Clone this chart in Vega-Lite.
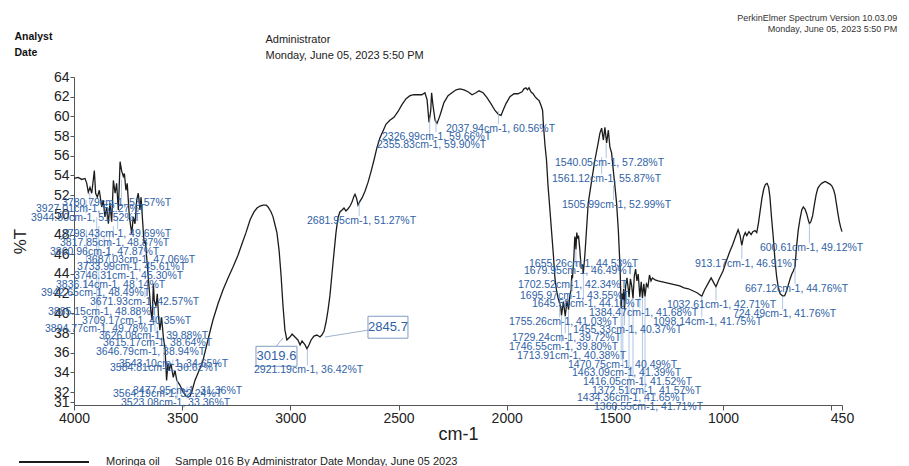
{
  "$schema": "https://vega.github.io/schema/vega-lite/v6.json",
  "autosize": {"type": "none"},
  "padding": {"left": 74, "top": 77, "right": 67, "bottom": 61},
  "width": 768,
  "height": 328,
  "background": "white",
  "title": {
    "text": ["PerkinElmer Spectrum Version 10.03.09", "Monday, June 05, 2023 5:50 PM"],
    "anchor": "end",
    "fontSize": 9,
    "fontWeight": "normal",
    "font": "Liberation Sans",
    "color": "#333333",
    "lineHeight": 11,
    "dx": 34,
    "offset": -3
  },
  "config": {
    "font": "Liberation Sans",
    "view": {"stroke": null}
  },
  "datasets": {
    "spec": [
      {"w": 4000, "t": 53.7}, {"w": 3981, "t": 53.8}, {"w": 3964, "t": 53.6}, {"w": 3949, "t": 53.7},
      {"w": 3941, "t": 53.2}, {"w": 3934, "t": 52.3}, {"w": 3926, "t": 52.8}, {"w": 3918, "t": 52.2},
      {"w": 3906, "t": 54.5}, {"w": 3900, "t": 52.2}, {"w": 3892, "t": 51.8}, {"w": 3883, "t": 52.5},
      {"w": 3872, "t": 50.8}, {"w": 3865, "t": 51.5}, {"w": 3857, "t": 49.8}, {"w": 3849, "t": 50.8},
      {"w": 3841, "t": 49.1}, {"w": 3834, "t": 51.2}, {"w": 3826, "t": 49.3}, {"w": 3818, "t": 53.5},
      {"w": 3810, "t": 52.2}, {"w": 3803, "t": 53.2}, {"w": 3795, "t": 50.5}, {"w": 3787, "t": 55.4},
      {"w": 3780, "t": 54.5}, {"w": 3772, "t": 53.9}, {"w": 3767, "t": 54.2}, {"w": 3760, "t": 52.5},
      {"w": 3754, "t": 53.2}, {"w": 3744, "t": 49.8}, {"w": 3733, "t": 48.1}, {"w": 3726, "t": 49.8},
      {"w": 3718, "t": 49.1}, {"w": 3710, "t": 51.5}, {"w": 3703, "t": 52.2}, {"w": 3695, "t": 50.5},
      {"w": 3690, "t": 51.8}, {"w": 3682, "t": 49.1}, {"w": 3676, "t": 47.1}, {"w": 3670, "t": 47.4},
      {"w": 3664, "t": 45.7}, {"w": 3657, "t": 43.7}, {"w": 3652, "t": 42.4}, {"w": 3645, "t": 40.3},
      {"w": 3639, "t": 39.3}, {"w": 3633, "t": 43.0}, {"w": 3629, "t": 41.3}, {"w": 3621, "t": 40.7},
      {"w": 3615, "t": 42.0}, {"w": 3609, "t": 39.6}, {"w": 3603, "t": 38.3}, {"w": 3595, "t": 39.6},
      {"w": 3587, "t": 37.6}, {"w": 3579, "t": 36.3}, {"w": 3572, "t": 33.2}, {"w": 3566, "t": 34.9},
      {"w": 3560, "t": 34.2}, {"w": 3552, "t": 34.9}, {"w": 3541, "t": 33.5}, {"w": 3533, "t": 34.2},
      {"w": 3525, "t": 33.2}, {"w": 3510, "t": 32.7}, {"w": 3495, "t": 32.0}, {"w": 3482, "t": 31.6},
      {"w": 3472, "t": 31.5}, {"w": 3464, "t": 31.6}, {"w": 3456, "t": 32.0}, {"w": 3441, "t": 33.2},
      {"w": 3418, "t": 34.4}, {"w": 3404, "t": 35.2}, {"w": 3381, "t": 37.3}, {"w": 3358, "t": 39.3},
      {"w": 3334, "t": 41.0}, {"w": 3311, "t": 42.4}, {"w": 3288, "t": 43.6}, {"w": 3265, "t": 44.7},
      {"w": 3242, "t": 45.9}, {"w": 3223, "t": 47.1}, {"w": 3205, "t": 48.2}, {"w": 3186, "t": 49.5},
      {"w": 3168, "t": 50.3}, {"w": 3154, "t": 50.7}, {"w": 3140, "t": 50.9}, {"w": 3126, "t": 51.0},
      {"w": 3112, "t": 51.0}, {"w": 3103, "t": 50.8}, {"w": 3089, "t": 50.3}, {"w": 3080, "t": 49.8},
      {"w": 3071, "t": 49.0}, {"w": 3062, "t": 48.2}, {"w": 3052, "t": 46.4}, {"w": 3043, "t": 43.9},
      {"w": 3034, "t": 40.8}, {"w": 3025, "t": 38.3}, {"w": 3016, "t": 37.3}, {"w": 3002, "t": 37.6},
      {"w": 2992, "t": 37.9}, {"w": 2983, "t": 37.7}, {"w": 2974, "t": 37.5}, {"w": 2965, "t": 37.3},
      {"w": 2955, "t": 36.8}, {"w": 2946, "t": 37.2}, {"w": 2932, "t": 36.8}, {"w": 2923, "t": 36.4},
      {"w": 2914, "t": 36.8}, {"w": 2904, "t": 37.3}, {"w": 2891, "t": 37.7}, {"w": 2877, "t": 37.8},
      {"w": 2863, "t": 37.6}, {"w": 2854, "t": 37.8}, {"w": 2844, "t": 38.2}, {"w": 2835, "t": 39.1},
      {"w": 2826, "t": 40.3}, {"w": 2817, "t": 41.8}, {"w": 2808, "t": 43.9}, {"w": 2798, "t": 46.2},
      {"w": 2789, "t": 48.2}, {"w": 2780, "t": 49.7}, {"w": 2771, "t": 50.3}, {"w": 2761, "t": 50.5},
      {"w": 2752, "t": 50.7}, {"w": 2743, "t": 50.4}, {"w": 2734, "t": 50.6}, {"w": 2724, "t": 50.9},
      {"w": 2715, "t": 51.3}, {"w": 2706, "t": 51.9}, {"w": 2701, "t": 52.1}, {"w": 2694, "t": 51.7},
      {"w": 2687, "t": 51.0}, {"w": 2678, "t": 51.4}, {"w": 2669, "t": 51.7}, {"w": 2655, "t": 52.4},
      {"w": 2641, "t": 53.3}, {"w": 2627, "t": 54.4}, {"w": 2613, "t": 55.6}, {"w": 2600, "t": 56.8},
      {"w": 2586, "t": 57.8}, {"w": 2572, "t": 58.5}, {"w": 2558, "t": 59.2}, {"w": 2540, "t": 59.6},
      {"w": 2521, "t": 59.9}, {"w": 2502, "t": 60.5}, {"w": 2484, "t": 61.2}, {"w": 2465, "t": 61.8},
      {"w": 2447, "t": 62.1}, {"w": 2429, "t": 62.2}, {"w": 2410, "t": 62.2}, {"w": 2392, "t": 62.2},
      {"w": 2378, "t": 62.4}, {"w": 2368, "t": 61.7}, {"w": 2359, "t": 59.4}, {"w": 2351, "t": 60.6},
      {"w": 2347, "t": 62.4}, {"w": 2341, "t": 61.2}, {"w": 2331, "t": 59.6}, {"w": 2322, "t": 59.3},
      {"w": 2313, "t": 59.8}, {"w": 2304, "t": 60.4}, {"w": 2290, "t": 61.4}, {"w": 2271, "t": 62.1},
      {"w": 2253, "t": 62.4}, {"w": 2234, "t": 62.7}, {"w": 2216, "t": 62.8}, {"w": 2197, "t": 62.7},
      {"w": 2179, "t": 62.5}, {"w": 2160, "t": 62.2}, {"w": 2142, "t": 62.4}, {"w": 2128, "t": 62.6},
      {"w": 2109, "t": 62.4}, {"w": 2091, "t": 61.9}, {"w": 2073, "t": 61.3}, {"w": 2054, "t": 60.6},
      {"w": 2038, "t": 60.2}, {"w": 2026, "t": 60.1}, {"w": 2017, "t": 60.6}, {"w": 2003, "t": 61.3},
      {"w": 1985, "t": 62.0}, {"w": 1966, "t": 62.3}, {"w": 1948, "t": 62.3}, {"w": 1929, "t": 62.5},
      {"w": 1920, "t": 62.8}, {"w": 1911, "t": 62.9}, {"w": 1904, "t": 62.7}, {"w": 1897, "t": 62.9},
      {"w": 1888, "t": 62.5}, {"w": 1878, "t": 62.3}, {"w": 1869, "t": 62.0}, {"w": 1860, "t": 61.8},
      {"w": 1850, "t": 61.6}, {"w": 1841, "t": 61.1}, {"w": 1834, "t": 60.6}, {"w": 1830, "t": 59.1},
      {"w": 1823, "t": 57.1}, {"w": 1816, "t": 55.6}, {"w": 1809, "t": 53.0}, {"w": 1800, "t": 50.5},
      {"w": 1791, "t": 47.9}, {"w": 1784, "t": 45.9}, {"w": 1777, "t": 43.6}, {"w": 1770, "t": 42.4},
      {"w": 1763, "t": 41.6}, {"w": 1755.26, "t": 41.03}, {"w": 1750, "t": 40.6}, {"w": 1746.55, "t": 39.8},
      {"w": 1738, "t": 41.2}, {"w": 1729.24, "t": 39.72}, {"w": 1721, "t": 41.3}, {"w": 1713.91, "t": 40.38},
      {"w": 1708, "t": 41.8}, {"w": 1702.52, "t": 42.34}, {"w": 1699, "t": 43.9}, {"w": 1695.97, "t": 43.55},
      {"w": 1690, "t": 45.5}, {"w": 1685, "t": 47.8}, {"w": 1682, "t": 47.5}, {"w": 1679.95, "t": 46.49},
      {"w": 1676, "t": 48.2}, {"w": 1672, "t": 47.6}, {"w": 1668, "t": 47.9}, {"w": 1662, "t": 46.5},
      {"w": 1655.26, "t": 44.53}, {"w": 1650, "t": 45.0}, {"w": 1645.58, "t": 44.1}, {"w": 1638, "t": 46.1},
      {"w": 1623, "t": 51.2}, {"w": 1607, "t": 53.5}, {"w": 1592, "t": 55.6}, {"w": 1577, "t": 57.3},
      {"w": 1569, "t": 58.3}, {"w": 1561, "t": 58.8}, {"w": 1553, "t": 57.6}, {"w": 1546, "t": 58.9},
      {"w": 1538, "t": 57.3}, {"w": 1530, "t": 58.6}, {"w": 1523, "t": 56.9}, {"w": 1515, "t": 56.3},
      {"w": 1507, "t": 54.5}, {"w": 1499, "t": 52.8}, {"w": 1492, "t": 51.2}, {"w": 1484, "t": 48.5},
      {"w": 1476, "t": 44.7}, {"w": 1470.75, "t": 40.49}, {"w": 1467, "t": 42.0}, {"w": 1463.09, "t": 41.39},
      {"w": 1459, "t": 42.5}, {"w": 1455.33, "t": 40.37}, {"w": 1450, "t": 42.8}, {"w": 1444, "t": 43.6},
      {"w": 1438, "t": 42.5}, {"w": 1434.36, "t": 41.65}, {"w": 1428, "t": 43.5}, {"w": 1422, "t": 42.8},
      {"w": 1416.05, "t": 41.52}, {"w": 1410, "t": 43.8}, {"w": 1404, "t": 44.5}, {"w": 1398, "t": 43.3},
      {"w": 1392, "t": 44.0}, {"w": 1384.47, "t": 41.68}, {"w": 1378, "t": 43.2}, {"w": 1372.51, "t": 41.57},
      {"w": 1366, "t": 43.0}, {"w": 1360.55, "t": 41.71}, {"w": 1354, "t": 43.0}, {"w": 1347, "t": 42.7},
      {"w": 1340, "t": 43.9}, {"w": 1333, "t": 43.3}, {"w": 1326, "t": 43.6}, {"w": 1314, "t": 43.4},
      {"w": 1300, "t": 43.3}, {"w": 1280, "t": 43.2}, {"w": 1260, "t": 43.1}, {"w": 1240, "t": 43.0},
      {"w": 1220, "t": 42.9}, {"w": 1200, "t": 42.8}, {"w": 1180, "t": 42.6}, {"w": 1160, "t": 42.5},
      {"w": 1140, "t": 42.3}, {"w": 1120, "t": 42.1}, {"w": 1098.14, "t": 41.75}, {"w": 1085, "t": 42.4},
      {"w": 1070, "t": 43.0}, {"w": 1055, "t": 43.6}, {"w": 1045, "t": 43.2}, {"w": 1032.61, "t": 42.71},
      {"w": 1020, "t": 43.4}, {"w": 1000, "t": 44.3}, {"w": 985, "t": 45.3}, {"w": 970, "t": 46.2},
      {"w": 955, "t": 47.0}, {"w": 942, "t": 47.8}, {"w": 930, "t": 48.5}, {"w": 921, "t": 47.9},
      {"w": 913.17, "t": 46.91}, {"w": 905, "t": 47.8}, {"w": 897, "t": 48.2}, {"w": 890, "t": 47.9},
      {"w": 880, "t": 48.3}, {"w": 870, "t": 48.0}, {"w": 862, "t": 48.3}, {"w": 852, "t": 48.4},
      {"w": 844, "t": 48.2}, {"w": 836, "t": 49.2}, {"w": 829, "t": 50.3}, {"w": 820, "t": 51.7},
      {"w": 812, "t": 52.6}, {"w": 804, "t": 53.1}, {"w": 796, "t": 53.2}, {"w": 789, "t": 52.8},
      {"w": 783, "t": 51.8}, {"w": 776, "t": 49.8}, {"w": 768, "t": 47.8}, {"w": 760, "t": 45.5},
      {"w": 752, "t": 43.7}, {"w": 744, "t": 42.6}, {"w": 736, "t": 42.0}, {"w": 724.49, "t": 41.76},
      {"w": 715, "t": 41.8}, {"w": 706, "t": 42.3}, {"w": 698, "t": 42.9}, {"w": 690, "t": 43.5},
      {"w": 682, "t": 44.0}, {"w": 675, "t": 44.3}, {"w": 667.12, "t": 44.76}, {"w": 660, "t": 46.8},
      {"w": 652, "t": 48.5}, {"w": 644, "t": 49.6}, {"w": 636, "t": 50.5}, {"w": 629, "t": 50.8},
      {"w": 621, "t": 50.6}, {"w": 613, "t": 50.1}, {"w": 606, "t": 49.5}, {"w": 600.61, "t": 49.12},
      {"w": 594, "t": 49.3}, {"w": 586, "t": 49.9}, {"w": 578, "t": 51.0}, {"w": 570, "t": 52.0},
      {"w": 562, "t": 52.7}, {"w": 553, "t": 53.0}, {"w": 544, "t": 53.2}, {"w": 536, "t": 53.3},
      {"w": 528, "t": 53.4}, {"w": 520, "t": 53.3}, {"w": 512, "t": 53.2}, {"w": 504, "t": 53.1},
      {"w": 496, "t": 52.9}, {"w": 488, "t": 52.5}, {"w": 482, "t": 52.0}, {"w": 477, "t": 51.3},
      {"w": 470, "t": 50.3}, {"w": 463, "t": 49.4}, {"w": 456, "t": 48.7}, {"w": 450, "t": 48.3}
    ],
    "labels": [
      {"label": "3780.79cm-1, 53.57%T", "pk": 3780.79, "pt": 53.57, "lx": 4055.5, "ly": 51.7},
      {"label": "3927.01cm-1, 52.27%T", "pk": 3927.01, "pt": 52.27, "lx": 4175.6, "ly": 51.09},
      {"label": "3944.50cm-1, 51.52%T", "pk": 3944.5, "pt": 51.52, "lx": 4198.7, "ly": 50.17},
      {"label": "3798.43cm-1, 49.69%T", "pk": 3798.43, "pt": 49.69, "lx": 4055.5, "ly": 48.54},
      {"label": "3817.85cm-1, 48.87%T", "pk": 3817.85, "pt": 48.87, "lx": 4064.7, "ly": 47.63},
      {"label": "3860.96cm-1, 47.87%T", "pk": 3860.96, "pt": 47.87, "lx": 4110.9, "ly": 46.72},
      {"label": "3687.03cm-1, 47.06%T", "pk": 3687.03, "pt": 47.06, "lx": 3944.5, "ly": 45.9},
      {"label": "3733.99cm-1, 45.61%T", "pk": 3733.99, "pt": 45.61, "lx": 3986.1, "ly": 45.19},
      {"label": "3746.31cm-1, 45.30%T", "pk": 3746.31, "pt": 45.3, "lx": 4000, "ly": 44.27},
      {"label": "3836.14cm-1, 48.14%T", "pk": 3836.14, "pt": 48.14, "lx": 4083.2, "ly": 43.35},
      {"label": "3942.65cm-1, 48.49%T", "pk": 3942.65, "pt": 48.49, "lx": 4152.5, "ly": 42.55},
      {"label": "3671.93cm-1, 42.57%T", "pk": 3671.93, "pt": 42.57, "lx": 3926, "ly": 41.63},
      {"label": "3885.15cm-1, 48.88%T", "pk": 3885.15, "pt": 48.88, "lx": 4120.2, "ly": 40.62},
      {"label": "3709.17cm-1, 40.35%T", "pk": 3709.17, "pt": 40.35, "lx": 3963, "ly": 39.7},
      {"label": "3894.77cm-1, 49.78%T", "pk": 3894.77, "pt": 49.78, "lx": 4134, "ly": 38.89},
      {"label": "3626.08cm-1, 39.88%T", "pk": 3626.08, "pt": 39.88, "lx": 3884.4, "ly": 38.18},
      {"label": "3615.17cm-1, 38.64%T", "pk": 3615.17, "pt": 38.64, "lx": 3866, "ly": 37.47},
      {"label": "3646.79cm-1, 38.94%T", "pk": 3646.79, "pt": 38.94, "lx": 3898.3, "ly": 36.55},
      {"label": "3543.10cm-1, 34.65%T", "pk": 3543.1, "pt": 34.65, "lx": 3792, "ly": 35.33},
      {"label": "3584.81cm-1, 36.62%T", "pk": 3584.81, "pt": 36.62, "lx": 3833.6, "ly": 34.93},
      {"label": "3477.95cm-1, 31.36%T", "pk": 3477.95, "pt": 31.36, "lx": 3727.3, "ly": 32.59},
      {"label": "3564.19cm-1, 32.24%T", "pk": 3564.19, "pt": 32.24, "lx": 3819.7, "ly": 32.28},
      {"label": "3523.08cm-1, 33.36%T", "pk": 3523.08, "pt": 33.36, "lx": 3782.8, "ly": 31.37},
      {"label": "2681.95cm-1, 51.27%T", "pk": 2681.95, "pt": 51.27, "lx": 2923.1, "ly": 49.87},
      {"label": "2326.99cm-1, 59.66%T", "pk": 2326.99, "pt": 59.66, "lx": 2576.4, "ly": 58.4},
      {"label": "2355.83cm-1, 59.90%T", "pk": 2355.83, "pt": 59.9, "lx": 2599.5, "ly": 57.59},
      {"label": "2037.94cm-1, 60.56%T", "pk": 2037.94, "pt": 60.56, "lx": 2280.6, "ly": 59.22},
      {"label": "2921.19cm-1, 36.42%T", "pk": 2921.19, "pt": 36.42, "lx": 3168, "ly": 34.72},
      {"label": "1540.05cm-1, 57.28%T", "pk": 1540.05, "pt": 57.28, "lx": 1776.8, "ly": 55.76},
      {"label": "1561.12cm-1, 55.87%T", "pk": 1561.12, "pt": 55.87, "lx": 1790.7, "ly": 54.13},
      {"label": "1505.99cm-1, 52.99%T", "pk": 1505.99, "pt": 52.99, "lx": 1744.5, "ly": 51.5},
      {"label": "1655.26cm-1, 44.53%T", "pk": 1655.26, "pt": 44.53, "lx": 1897, "ly": 45.5},
      {"label": "1679.95cm-1, 46.49%T", "pk": 1679.95, "pt": 46.49, "lx": 1920.1, "ly": 44.78},
      {"label": "1702.52cm-1, 42.34%T", "pk": 1702.52, "pt": 42.34, "lx": 1947.8, "ly": 43.35},
      {"label": "1695.97cm-1, 43.55%T", "pk": 1695.97, "pt": 43.55, "lx": 1938.6, "ly": 42.24},
      {"label": "1645.58cm-1, 44.10%T", "pk": 1645.58, "pt": 44.1, "lx": 1883.1, "ly": 41.43},
      {"label": "1384.47cm-1, 41.68%T", "pk": 1384.47, "pt": 41.68, "lx": 1619.7, "ly": 40.52},
      {"label": "1755.26cm-1, 41.03%T", "pk": 1755.26, "pt": 41.03, "lx": 1989.4, "ly": 39.6},
      {"label": "1455.33cm-1, 40.37%T", "pk": 1455.33, "pt": 40.37, "lx": 1693.6, "ly": 38.79},
      {"label": "1729.24cm-1, 39.72%T", "pk": 1729.24, "pt": 39.72, "lx": 1975.6, "ly": 37.98},
      {"label": "1746.55cm-1, 39.80%T", "pk": 1746.55, "pt": 39.8, "lx": 1989.4, "ly": 37.06},
      {"label": "1713.91cm-1, 40.38%T", "pk": 1713.91, "pt": 40.38, "lx": 1952.5, "ly": 36.15},
      {"label": "1470.75cm-1, 40.49%T", "pk": 1470.75, "pt": 40.49, "lx": 1716.7, "ly": 35.23},
      {"label": "1463.09cm-1, 41.39%T", "pk": 1463.09, "pt": 41.39, "lx": 1698.2, "ly": 34.42},
      {"label": "1416.05cm-1, 41.52%T", "pk": 1416.05, "pt": 41.52, "lx": 1647.4, "ly": 33.5},
      {"label": "1372.51cm-1, 41.57%T", "pk": 1372.51, "pt": 41.57, "lx": 1605.8, "ly": 32.59},
      {"label": "1434.36cm-1, 41.65%T", "pk": 1434.36, "pt": 41.65, "lx": 1675.1, "ly": 31.88},
      {"label": "1360.55cm-1, 41.71%T", "pk": 1360.55, "pt": 41.71, "lx": 1596.6, "ly": 30.96},
      {"label": "1032.61cm-1, 42.71%T", "pk": 1032.61, "pt": 42.71, "lx": 1259.2, "ly": 41.33},
      {"label": "1098.14cm-1, 41.75%T", "pk": 1098.14, "pt": 41.75, "lx": 1323.9, "ly": 39.6},
      {"label": "913.17cm-1, 46.91%T", "pk": 913.17, "pt": 46.91, "lx": 1129.8, "ly": 45.5},
      {"label": "600.61cm-1, 49.12%T", "pk": 600.61, "pt": 49.12, "lx": 829.3, "ly": 47.12},
      {"label": "667.12cm-1, 44.76%T", "pk": 667.12, "pt": 44.76, "lx": 898.6, "ly": 42.96},
      {"label": "724.49cm-1, 41.76%T", "pk": 724.49, "pt": 41.76, "lx": 954.1, "ly": 40.41}
    ],
    "boxes": [
      {"label": "3019.6", "bx": 3158.8, "bx2": 2969.3, "by": 36.66, "by2": 34.63, "cx": 3064, "cy": 35.64, "lx1": 3034, "ly1": 37.5, "lx2": 3065, "ly2": 36.66},
      {"label": "2845.7", "bx": 2641.1, "bx2": 2456.3, "by": 39.71, "by2": 37.48, "cx": 2548.7, "cy": 38.6, "lx1": 2840, "ly1": 37.6, "lx2": 2641.1, "ly2": 38.3}
    ]
  },
  "resolve": {"axis": {"x": "independent", "y": "independent"}},
  "layer": [
    {
      "data": {"name": "spec"},
      "mark": {"type": "line", "strokeWidth": 1.3},
      "encoding": {
        "x": {
          "field": "w", "type": "quantitative",
          "scale": {"domain": [450, 4000], "reverse": true, "nice": false, "zero": false},
          "axis": {
            "values": [4000, 3500, 3000, 2500, 2000, 1500, 1000, 500, 450],
            "labelExpr": "datum.value == 500 ? '' : datum.label",
            "format": "d",
            "title": "cm-1",
            "titleFontSize": 18, "titleFontWeight": "normal", "titleColor": "#222222", "titlePadding": 0,
            "labelFontSize": 14, "labelColor": "#222222", "labelPadding": 1,
            "labelFlush": false, "labelOverlap": false,
            "tickSize": 5, "tickColor": "#555555", "domainColor": "#555555", "grid": false
          }
        },
        "y": {
          "field": "t", "type": "quantitative",
          "scale": {"domain": [30.7, 64], "nice": false, "zero": false},
          "axis": {
            "values": [31, 32, 34, 36, 38, 40, 42, 44, 46, 48, 50, 52, 54, 56, 58, 60, 62, 64],
            "title": "%T",
            "titleFontSize": 17, "titleFontWeight": "normal", "titleColor": "#222222", "titlePadding": 24,
            "labelFontSize": 14, "labelColor": "#222222", "labelPadding": 1,
            "labelOverlap": false,
            "tickSize": 4, "tickColor": "#555555", "domainColor": "#555555", "grid": false
          }
        },
        "color": {
          "datum": "Moringa oil", "type": "nominal",
          "scale": {"range": ["#1c1c1c"]},
          "legend": {
            "orient": "none", "legendX": -56, "legendY": 349,
            "title": null,
            "labelExpr": "datum.label + '\u00a0\u00a0\u00a0\u00a0\u00a0Sample 016 By Administrator Date Monday, June 05 2023'",
            "labelLimit": 600,
            "labelFontSize": 11, "labelColor": "#222222", "labelOffset": 16,
            "symbolType": "stroke", "symbolSize": 4900, "symbolStrokeWidth": 2
          }
        }
      }
    },
    {
      "data": {"name": "labels"},
      "mark": {"type": "rule", "color": "#9ab8dc", "strokeWidth": 0.8},
      "encoding": {
        "x": {
          "field": "pk", "type": "quantitative",
          "scale": {"domain": [450, 4000], "reverse": true, "nice": false, "zero": false},
          "axis": {
            "orient": "top", "domain": false, "ticks": false, "labels": false, "grid": false,
            "title": ["Analyst", "Date"], "titleX": -60, "titleY": -46, "titleAlign": "left",
            "titleBaseline": "top", "titleAngle": 0, "titleFontSize": 10.5, "titleFontWeight": "bold",
            "titleColor": "#111111", "titleLineHeight": 16
          }
        },
        "y": {
          "field": "pt", "type": "quantitative",
          "scale": {"domain": [30.7, 64], "nice": false, "zero": false},
          "axis": {
            "orient": "right", "domain": false, "ticks": false, "labels": false, "grid": false,
            "title": ["Administrator", "Monday, June 05, 2023 5:50 PM"], "titleX": -577, "titleY": -44,
            "titleAlign": "left", "titleBaseline": "top", "titleAngle": 0, "titleFontSize": 11,
            "titleFontWeight": "normal", "titleColor": "#222222", "titleLineHeight": 16
          }
        },
        "y2": {"field": "ly"}
      }
    },
    {
      "data": {"name": "boxes"},
      "mark": {"type": "rule", "color": "#9fb3cc", "strokeWidth": 1},
      "encoding": {
        "x": {"field": "lx1", "type": "quantitative", "scale": {"domain": [450, 4000], "reverse": true, "nice": false, "zero": false}, "axis": null},
        "y": {"field": "ly1", "type": "quantitative", "scale": {"domain": [30.7, 64], "nice": false, "zero": false}, "axis": null},
        "x2": {"field": "lx2"},
        "y2": {"field": "ly2"}
      }
    },
    {
      "data": {"name": "boxes"},
      "mark": {"type": "rect", "fill": "white", "stroke": "#7f9cc4", "strokeWidth": 1},
      "encoding": {
        "x": {"field": "bx", "type": "quantitative", "scale": {"domain": [450, 4000], "reverse": true, "nice": false, "zero": false}, "axis": null},
        "x2": {"field": "bx2"},
        "y": {"field": "by", "type": "quantitative", "scale": {"domain": [30.7, 64], "nice": false, "zero": false}, "axis": null},
        "y2": {"field": "by2"}
      }
    },
    {
      "data": {"name": "boxes"},
      "mark": {"type": "text", "align": "center", "baseline": "middle", "fontSize": 13, "color": "#2f62a5"},
      "encoding": {
        "x": {"field": "cx", "type": "quantitative", "scale": {"domain": [450, 4000], "reverse": true, "nice": false, "zero": false}, "axis": null},
        "y": {"field": "cy", "type": "quantitative", "scale": {"domain": [30.7, 64], "nice": false, "zero": false}, "axis": null},
        "text": {"field": "label"}
      }
    },
    {
      "data": {"name": "labels"},
      "mark": {"type": "text", "align": "left", "baseline": "top", "fontSize": 10.5, "color": "#2f62a5"},
      "encoding": {
        "x": {"field": "lx", "type": "quantitative", "scale": {"domain": [450, 4000], "reverse": true, "nice": false, "zero": false}, "axis": null},
        "y": {"field": "ly", "type": "quantitative", "scale": {"domain": [30.7, 64], "nice": false, "zero": false}, "axis": null},
        "text": {"field": "label"}
      }
    }
  ]
}
